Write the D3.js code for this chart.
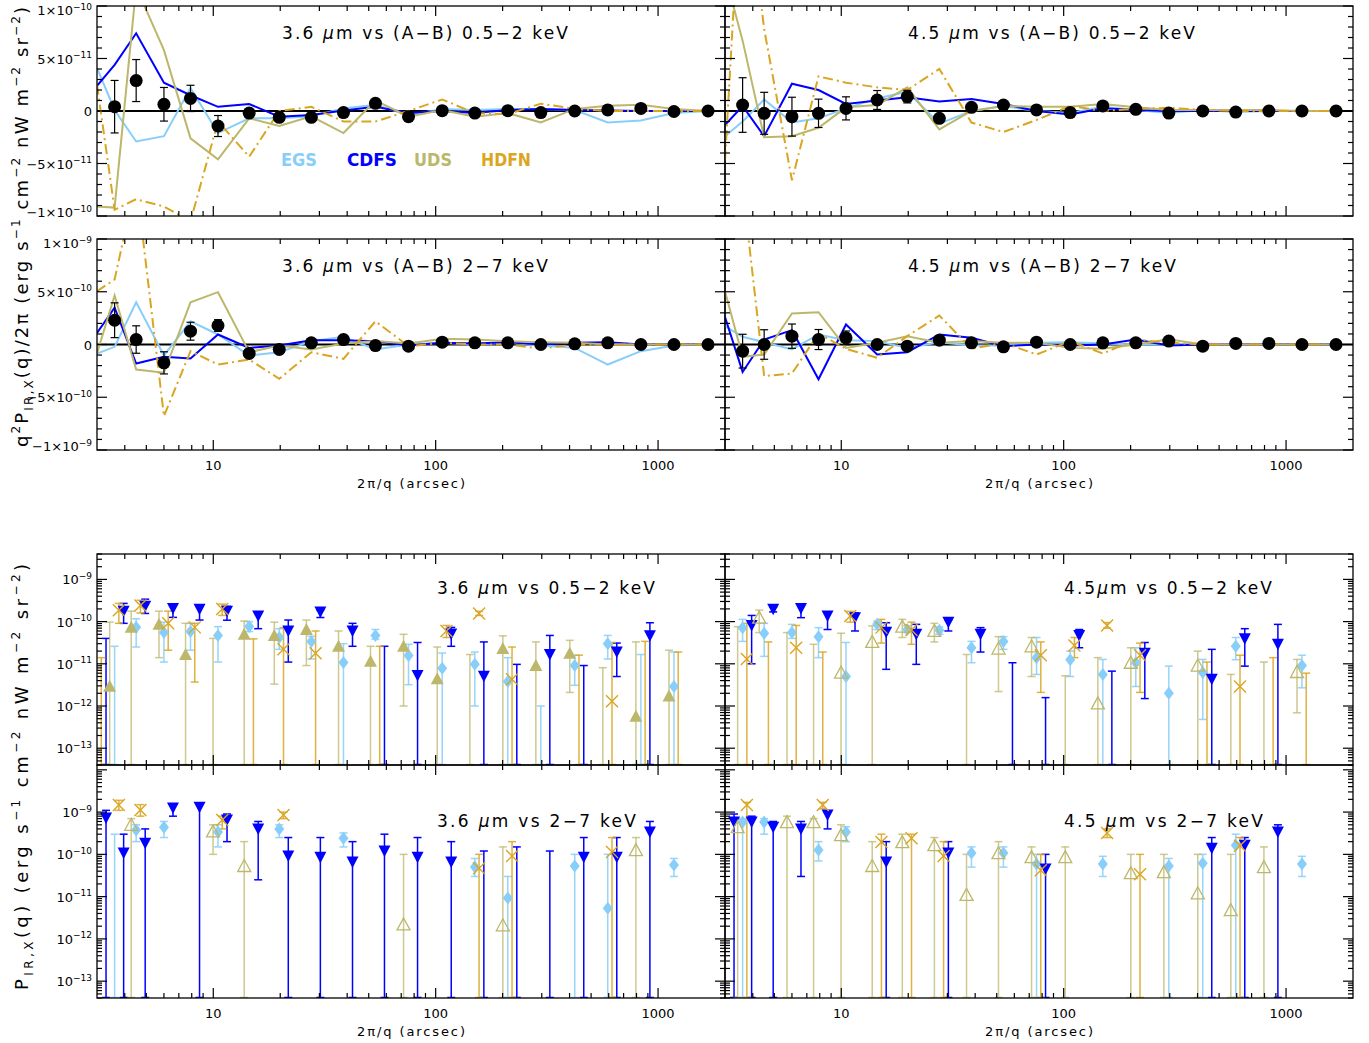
<!DOCTYPE html>
<html>
<head>
<meta charset="utf-8">
<script src="https://cdn.jsdelivr.net/npm/d3@7"></script>
<style>
  body { margin: 0; background: #fff; }
  text { font-family: "DejaVu Sans", sans-serif; fill: #000; }
</style>
</head>
<body>
<svg id="chart" width="1369" height="1043"></svg>
<script>
/* * * * * * * * * * * * * * * * * *
*   IR x X-ray cross power spectra   *
* * * * * * * * * * * * * * * * * * */

// angular scales 2pi/q (arcsec); first one is the left edge start of the curves
const scales = [3.0, 3.6, 4.5, 6.0, 7.9, 10.5, 14.5, 19.8, 27.6, 38.5, 53.6, 75.5, 107, 150, 211, 297, 422, 594, 837, 1179, 1678];
const fields = ['EGS', 'CDFS', 'UDS', 'HDFN'];
const fieldColors = ['#87cefa', '#0000ff', '#bdb76b', '#daa520'];
// small shift of each field along x in the lower panels (multiplicative)
const fieldShift = [1.0, 1.098, 0.95, 1.045];

// ---- top block : q^2 P /2pi, (A-B) maps ----
// 3.6um vs 0.5-2 keV, units 1e-11
const a36Mean = [0.41, 2.9, 0.64, 1.2, -1.43, -0.2, -0.6, -0.6, -0.15, 0.73, -0.54, 0.03, -0.2, 0.03, -0.15, 0, 0.1, 0.25, -0.05, 0];
const a36Err  = [2.5, 2.0, 1.6, 1.25, 1.0, 0.35, 0.3, 0.3, 0.25, 0.3, 0.25, 0.2, 0.2, 0.2, 0.2, 0.15, 0.15, 0.15, 0.1, 0.1];
const a36EGS  = [4.1, 0.1, -2.9, -2.4, 2.2, -2.1, -0.7, -0.7, -0.5, 0.25, 0.6, -0.4, 0.2, 0.1, 0.2, 0.2, 0.1, -1.1, -0.9, -0.2, 0];
const a36CDFS = [2.4, 4.4, 7.4, 2.7, 1.5, 0.4, 0.67, -0.54, -0.38, 0.05, 0.4, -0.2, 0, -0.2, 0.1, 0.2, 0.1, 0.05, 0, 0, 0];
const a36UDS  = [-9.1, -9.2, 11.8, 5.8, -2.6, -4.6, -0.7, -1.43, -0.5, -2.1, 1.0, -0.54, 0.1, -0.54, -0.2, -1.1, 0.2, 0.5, 0.6, 0.2, 0];
const a36HDFN = [2.5, -9.4, -8.4, -9.1, -10.5, -1.0, -4.35, 0, 0.4, -1.0, -1.0, 0, 1.1, -0.2, -0.3, 0.7, 0.2, 0, 0, 0, 0];
// 4.5um vs 0.5-2 keV, units 1e-11
const a45Mean = [0.57, -0.22, -0.54, -0.22, 0.25, 1.05, 1.37, -0.7, 0.35, 0.57, 0.1, -0.15, 0.48, 0.16, -0.2, 0, -0.1, 0, 0, 0];
const a45Err  = [2.6, 2.0, 1.85, 1.35, 1.1, 0.9, 0.6, 0.3, 0.3, 0.25, 0.2, 0.2, 0.2, 0.2, 0.15, 0.15, 0.15, 0.1, 0.1, 0.1];
const a45EGS  = [-2.4, -1.0, 1.1, -1.1, -0.7, 0.25, 1.2, 1.84, -1.2, 0, 0.48, 0, -0.2, 0.4, 0.1, -0.2, 0.1, -0.1, 0, 0, 0];
const a45CDFS = [-1.33, 0.48, -2.4, 2.6, 2.0, 0.67, 1.0, 1.3, 0.9, 1.14, 0.67, 0, -0.33, 0.25, 0.1, 0, 0, 0, 0, 0, 0];
const a45UDS  = [13, 6.7, -2.5, -2.4, -1.6, 0.35, 0.57, 2.25, -1.75, 0, 0.48, 0.4, 0.4, 0.67, 0.35, 0.1, 0.1, 0.1, 0.1, 0, 0];
const a45HDFN = [-4.7, 25, 7.8, -6.6, 3.3, 2.7, 2.25, 2.0, 4.0, -1.1, -2.0, -0.86, 0.48, 0, 0.2, 0.3, 0.1, 0, 0, 0, 0];
// 3.6um vs 2-7 keV, units 1e-10
const b36Mean = [2.3, 0.47, -1.74, 1.26, 1.8, -0.85, -0.47, 0.16, 0.47, -0.1, -0.16, 0.22, 0.16, 0.16, 0, 0.06, 0.16, 0, 0, 0];
const b36Err  = [1.65, 1.3, 1.05, 0.85, 0.55, 0.3, 0.25, 0.25, 0.25, 0.2, 0.2, 0.2, 0.2, 0.15, 0.15, 0.15, 0.15, 0.1, 0.1, 0.1];
const b36EGS  = [-0.85, -0.22, 4.0, -1.04, 2.2, 0.95, -1.04, -0.73, 0.32, 0.73, -0.47, 0, 0.16, 0, 0.16, -0.1, -0.32, -1.9, -0.63, -0.1, 0];
const b36CDFS = [1.1, 3.5, -1.8, -1.17, -1.33, 0.95, -0.32, -0.1, 0.41, 0.41, 0.32, -0.1, 0.16, 0.1, 0.22, 0, 0.16, 0.22, 0, 0, 0];
const b36UDS  = [-0.85, 4.64, -2.37, -2.68, 4.0, 4.96, -0.73, -0.1, -0.47, 0.1, 0.32, 0.1, 0.54, 0.47, 0.32, 0.22, 0.16, 0, 0, 0, 0];
const b36HDFN = [5.05, 6.16, 15.5, -6.8, -0.63, -1.9, -1.42, -3.25, -0.73, -1.36, 2.2, -0.16, 0.16, 0, 0, -0.4, 0, 0, 0, 0, 0];
// 4.5um vs 2-7 keV, units 1e-10
const b45Mean = [-0.63, 0, 0.79, 0.47, 0.63, 0, -0.16, 0.41, 0.16, -0.22, 0.22, 0, 0.16, 0.16, 0.32, -0.16, 0.1, 0.1, 0, 0];
const b45Err  = [1.6, 1.4, 1.15, 0.95, 0.65, 0.3, 0.25, 0.25, 0.2, 0.2, 0.2, 0.2, 0.15, 0.15, 0.15, 0.15, 0.1, 0.1, 0.1, 0.1];
const b45EGS  = [1.74, 0.73, 0.22, -0.47, 0.95, 0.41, 0.32, -0.32, 0.22, -0.1, -0.1, 0.16, 0.22, 0.1, 0, 0, 0.1, 0, 0, 0, 0];
const b45CDFS = [2.6, -2.6, 0.47, 1.36, -3.3, 1.9, -0.95, -0.73, 0.95, 0.63, -0.16, 0, -0.1, 0, 0.47, -0.1, 0, 0, 0, 0, 0];
const b45UDS  = [5.05, -1.17, -0.95, 2.94, 3.06, -0.32, 0.16, 0.79, 0.16, 0.32, 0.16, 0.16, -0.32, -0.4, 0, 0.5, 0, 0, 0, 0, 0];
const b45HDFN = [30, 15, -3.0, -2.75, 1.04, -0.41, -1.26, 0.79, 2.75, -0.41, 0.16, -0.95, 0.32, -0.85, 0.47, 0.16, 0, 0, 0, 0, 0];

// ---- bottom block : P_IR,X per field ----
// [scale index, value (null = below axis), upper end, lower end (0 = off the bottom)]
const s36EGS = [[1,null,2.6e-11,0],[2,7.3e-11,1.17e-10,2.5e-11],[3,5.5e-11,9.7e-11,1.1e-11],[4,5.8e-11,9.1e-11,2.1e-11],[5,4.7e-11,7.6e-11,1.1e-11],[6,7.7e-11,1.0e-10,5.8e-11],[7,4.2e-11,6.8e-11,2.2e-11],[8,3.4e-11,4.5e-11,1.3e-11],[9,1.08e-11,3.0e-11,0],[10,4.7e-11,6.5e-11,3.8e-11],[11,1.58e-11,2.9e-11,3.2e-12],[12,7.8e-12,1.8e-11,0],[13,9.7e-12,1.9e-11,1.0e-12],[14,3.8e-12,1.4e-11,0],[15,null,1.0e-12,0],[16,9.1e-12,1.6e-11,3.1e-12],[17,3.0e-11,4.7e-11,1.3e-11],[18,null,1.66e-11,0],[19,2.9e-12,1.9e-11,0]];
const s36CDFS = [[0,null,4.0e-11,0],[1,1.75e-10,2.7e-10,9.1e-11],[2,2.3e-10,3.4e-10,1.56e-10],[3,2.05e-10,2.6e-10,1.26e-10],[4,1.95e-10,2.4e-10,1.09e-10],[5,1.77e-10,2.3e-10,1.08e-10],[6,1.35e-10,1.6e-10,6.8e-11],[7,6.0e-11,1.09e-10,1.1e-11],[8,1.68e-10,1.9e-10,1.25e-10],[9,6.0e-11,9.1e-11,2.6e-11],[10,null,2.6e-11,0],[11,5.3e-12,3.2e-11,0],[12,5.1e-11,7.3e-11,2.6e-11],[13,5.1e-12,3.3e-11,0],[14,null,9.7e-12,0],[15,1.66e-11,4.7e-11,0],[16,null,9.1e-12,0],[17,1.9e-11,3.1e-11,5.0e-12],[18,4.6e-11,9.4e-11,0]];
const s36UDS = [[1,2.95e-12,9.7e-11,0],[2,7.3e-11,1.77e-10,0],[3,8.6e-11,1.77e-10,1.4e-11],[4,1.66e-11,9.1e-11,0],[5,null,4.0e-11,0],[6,5.0e-11,1.03e-10,0],[7,4.7e-11,9.7e-11,3.3e-12],[8,6.5e-11,1.09e-10,9.1e-12],[9,2.6e-11,6.0e-11,0],[10,1.15e-11,2.6e-11,0],[11,2.6e-11,5.0e-11,1.0e-12],[12,4.4e-12,2.5e-11,0],[13,null,1.66e-11,0],[14,2.3e-11,4.6e-11,0],[15,9.1e-12,3.3e-11,0],[16,1.77e-11,3.6e-11,2.1e-12],[17,null,8.1e-12,0],[18,5.7e-13,3.3e-11,0],[19,1.72e-12,2.1e-11,0]];
const s36HDFN = [[0,null,1.4e-11,0],[1,1.87e-10,2.7e-10,9.1e-11],[2,2.4e-10,3.2e-10,1.6e-10],[3,9.1e-11,1.77e-10,2.1e-11],[4,7.3e-11,9.1e-11,3.7e-12],[5,2.0e-10,2.6e-10,1.4e-10],[6,null,3.9e-11,0],[7,2.2e-11,7.2e-11,0],[8,1.77e-11,6.0e-11,0],[10,null,2.6e-11,0],[12,6.0e-11,8.1e-11,4.2e-11],[13,1.56e-10,1.75e-10,1.4e-10],[14,4.3e-12,2.5e-11,0],[16,null,1.6e-11,0],[17,1.3e-12,3.2e-11,0],[18,null,3.4e-11,0],[19,null,1.9e-11,0]];

const s45EGS = [[1,7.2e-11,1.13e-10,3.4e-11],[2,5.3e-11,9.1e-11,1.5e-11],[3,5.5e-11,8.6e-11,4.0e-11],[4,4.4e-11,7.2e-11,1.4e-11],[5,5.0e-12,3.2e-11,0],[6,8.6e-11,1.03e-10,6.5e-11],[7,6.5e-11,8.0e-11,5.5e-11],[8,6.2e-11,7.5e-11,5.0e-11],[9,2.4e-11,3.4e-11,1.06e-11],[10,3.4e-11,4.4e-11,2.2e-11],[11,1.4e-11,4.2e-11,5.6e-12],[12,1.25e-11,2.0e-11,5.0e-12],[13,5.6e-12,1.27e-11,0],[14,1.06e-11,2.4e-11,2.9e-12],[15,2.0e-12,8.8e-12,0],[16,6.2e-12,1.27e-11,4.8e-13],[17,2.6e-11,4.2e-11,1.25e-11],[19,9.1e-12,1.6e-11,2.7e-12]];
const s45CDFS = [[1,8.1e-11,1.4e-10,1.0e-11],[2,1.95e-10,2.2e-10,1.7e-10],[3,2.05e-10,2.3e-10,1.24e-10],[4,1.35e-10,1.7e-10,6.5e-11],[5,1.24e-10,1.6e-10,6.0e-11],[6,5.6e-11,9.4e-11,7.4e-12],[7,5.0e-11,8.6e-11,9.7e-12],[8,9.7e-11,1.1e-10,6.0e-11],[9,5.0e-11,7.2e-11,1.9e-11],[10,null,1.06e-11,0],[11,null,1.58e-12,0],[12,4.7e-11,6.5e-11,2.4e-11],[13,null,6.7e-12,0],[14,1.77e-11,3.2e-11,1.5e-12],[16,4.3e-12,2.2e-11,0],[17,3.9e-11,6.8e-11,8.8e-12],[18,2.9e-11,8.6e-11,0]];
const s45UDS = [[1,null,7.6e-11,0],[2,1.24e-10,1.87e-10,5.5e-11],[3,null,5.5e-11,0],[4,null,2.9e-11,0],[5,6.2e-12,5.3e-11,0],[6,3.3e-11,7.9e-11,0],[7,7.6e-11,1.13e-10,4.2e-11],[8,6.0e-11,9.1e-11,3.3e-11],[9,null,1.66e-11,0],[10,2.3e-11,4.4e-11,2.2e-12],[11,2.6e-11,4.2e-11,5.0e-12],[12,null,5.2e-12,0],[13,1.15e-12,1.4e-11,0],[14,1.06e-11,2.4e-11,0],[16,9.1e-12,2.0e-11,0],[17,null,5.6e-12,0],[18,null,1.1e-11,0],[19,6.4e-12,1.27e-11,6.9e-13]];
const s45HDFN = [[1,1.3e-11,9.1e-11,0],[2,null,3.3e-11,0],[3,2.4e-11,8.1e-11,0],[4,null,1.9e-11,0],[5,1.35e-10,1.75e-10,9.7e-11],[6,7.2e-11,1.13e-10,3.1e-11],[7,6.3e-11,9.7e-11,2.9e-11],[11,1.6e-11,3.3e-11,2.1e-12],[12,2.7e-11,4.2e-11,1.4e-11],[13,8.1e-11,9.5e-11,7.0e-11],[14,1.6e-11,3.1e-11,2.1e-12],[16,null,1.1e-11,0],[17,2.9e-12,1.6e-11,0],[18,null,1.4e-11,0],[19,null,6.0e-12,0]];

const h36EGS = [[1,null,3.0e-10,0],[2,3.75e-10,5.0e-10,2.0e-10],[3,4.4e-10,6.0e-10,2.5e-10],[5,3.4e-10,5.0e-10,1.5e-10],[7,4.0e-10,5.0e-10,2.5e-10],[9,2.4e-10,3.2e-10,1.5e-10],[13,5.0e-11,8.0e-11,3.0e-11],[14,9.3e-12,3.0e-11,0],[16,5.3e-11,1.0e-10,0],[17,5.3e-12,1.0e-10,0],[19,5.6e-11,8.0e-11,3.0e-11]];
const h36CDFS = [[0,7.2e-10,1.1e-9,0],[1,1.07e-10,3.0e-10,0],[2,1.84e-10,4.0e-10,0],[3,1.25e-9,1.5e-9,8.0e-10],[4,1.31e-9,1.6e-9,0],[5,6.5e-10,9.0e-10,2.0e-10],[6,3.96e-10,6.0e-10,2.5e-11],[7,9.1e-11,2.5e-10,0],[8,8.6e-11,2.5e-10,0],[9,6.6e-11,2.0e-10,0],[10,1.2e-10,3.0e-10,0],[11,8.6e-11,2.5e-10,0],[12,6.6e-11,2.0e-10,0],[13,null,1.2e-10,0],[14,null,1.5e-10,0],[15,null,1.2e-10,0],[16,8.6e-11,2.5e-10,0],[17,8.6e-11,2.5e-10,0],[18,3.4e-10,6.0e-10,0]];
const h36UDS = [[2,5.0e-10,7.0e-10,0],[5,3.5e-10,5.0e-10,1.0e-10],[6,5.3e-11,2.0e-10,0],[11,2.2e-12,1.0e-10,0],[14,2.1e-12,1.5e-10,0],[18,1.26e-10,2.5e-10,0]];
const h36HDFN = [[1,1.47e-9,1.9e-9,1.1e-9],[2,1.12e-9,1.5e-9,8.0e-10],[5,6.5e-10,8.0e-10,4.0e-10],[7,8.5e-10,1.0e-9,7.0e-10],[13,4.7e-11,1.0e-10,0],[14,9.1e-11,2.0e-10,0],[17,1.13e-10,2.5e-10,0]];

const h45EGS = [[1,5.8e-10,7.0e-10,0],[2,5.8e-10,7.0e-10,3.0e-10],[4,1.26e-10,2.0e-10,7.0e-11],[5,3.37e-10,4.5e-10,2.0e-10],[9,1.07e-10,1.5e-10,5.0e-11],[10,1.07e-10,1.5e-10,5.0e-11],[11,5.9e-11,1.0e-10,0],[13,5.9e-11,9.0e-11,3.0e-11],[15,5.3e-11,8.0e-11,0],[16,6.2e-11,1.0e-10,0],[17,1.65e-10,3.0e-10,0],[19,5.9e-11,9.0e-11,3.0e-11]];
const h45CDFS = [[0,5.8e-10,9.0e-10,0],[1,5.8e-10,8.0e-10,0],[2,4.4e-10,6.0e-10,0],[3,3.96e-10,6.0e-10,3.0e-11],[4,8.5e-10,1.0e-9,4.0e-10],[6,6.6e-11,2.0e-10,0],[8,1.07e-10,2.0e-10,0],[11,4.5e-11,1.0e-10,0],[16,1.4e-10,2.5e-10,0],[17,1.65e-10,2.5e-10,0],[18,3.4e-10,5.0e-10,0]];
const h45UDS = [[1,4.4e-10,7.0e-10,0],[3,5.8e-10,8.0e-10,0],[4,5.8e-10,7.0e-10,0],[5,2.85e-10,5.0e-10,0],[6,5.3e-11,2.0e-10,0],[7,1.95e-10,3.0e-10,0],[8,1.65e-10,2.5e-10,0],[9,1.1e-11,1.0e-10,0],[10,1.07e-10,2.0e-10,0],[11,8.6e-11,1.5e-10,0],[12,8.6e-11,1.5e-10,0],[14,3.6e-11,1.0e-10,0],[15,3.8e-11,1.0e-10,0],[16,1.2e-11,1.0e-10,0],[17,4.8e-12,1.0e-10,0],[18,5.0e-11,1.5e-10,0]];
const h45HDFN = [[1,1.47e-9,1.7e-9,0],[4,1.47e-9,1.7e-9,1.2e-9],[6,1.95e-10,3.0e-10,0],[7,2.4e-10,3.0e-10,0],[8,9.1e-11,2.0e-10,0],[11,4.2e-11,1.0e-10,0],[13,3.2e-10,4.0e-10,2.5e-10],[14,3.4e-11,1.0e-10,0],[17,1.6e-10,2.5e-10,0]];

// ------------------------------------------------------------------
let svg = d3.select("#chart");
let cols = [[97, 725], [725, 1353]];
let xDomain = [3, 2000];
let xMajor = [10, 100, 1000];
let xMinor = [];
[1, 10, 100, 1000].forEach(d => { for (let k = 2; k < 10; k++) { let v = k * d; if (v > 3 && v < 2000) xMinor.push(v); } });

// text with super/subscripts: parts = [[str, mode]] mode '', 'sup', 'sub', 'it'
function rich(t, parts, fs, small) {
    let shift = 0;
    parts.forEach(([s, m]) => {
        let target = m === 'sup' ? -0.42 * fs : m === 'sub' ? 0.28 * fs : 0;
        let ts = t.append('tspan').text(s).attr('dy', target - shift);
        if (m === 'sup' || m === 'sub') ts.attr('font-size', small);
        if (m === 'it') ts.attr('font-style', 'italic');
        shift = target;
    });
    return t;
}

function ticks(parent, scale, side, major, minor, x0, x1, y0, y1) {
    let g = parent.append('g').attr('stroke', '#000').attr('stroke-width', 1.2);
    let all = major.map(v => [v, 10]).concat(minor.map(v => [v, 5]));
    all.forEach(([v, len]) => {
        let p = scale(v);
        if (side === 'left')   g.append('line').attr('x1', x0).attr('x2', x0 + len).attr('y1', p).attr('y2', p);
        if (side === 'right')  g.append('line').attr('x1', x1).attr('x2', x1 - len).attr('y1', p).attr('y2', p);
        if (side === 'bottom') g.append('line').attr('x1', p).attr('x2', p).attr('y1', y1).attr('y2', y1 - len);
        if (side === 'top')    g.append('line').attr('x1', p).attr('x2', p).attr('y1', y0).attr('y2', y0 + len);
    });
}

function frame(col, y0, y1) {
    let x0 = cols[col][0], x1 = cols[col][1];
    let g = svg.append('g');
    let id = 'clip' + col + '_' + Math.round(y0);
    svg.append('clipPath').attr('id', id).append('rect')
        .attr('x', x0).attr('y', y0).attr('width', x1 - x0).attr('height', y1 - y0);
    let x = d3.scaleLog().domain(xDomain).range([x0, x1]);
    return {g, x, x0, x1, y0, y1, clip: 'url(#' + id + ')'};
}

function xLabels(p) {
    xMajor.forEach(v => {
        svg.append('text').attr('x', p.x(v)).attr('y', p.y1 + 20).attr('text-anchor', 'middle')
            .attr('font-size', 13).text(v);
    });
    svg.append('text').attr('x', p.x0 + 260).attr('y', p.y1 + 38).attr('font-size', 13)
        .attr('textLength', 108).attr('lengthAdjust', 'spacing').text('2π/q  (arcsec)');
}

function title(x, y, w, parts) {
    let t = svg.append('text').attr('x', x).attr('y', y).attr('font-size', 17)
        .attr('textLength', w).attr('lengthAdjust', 'spacing');
    rich(t, parts, 17, 12);
}

// linear panels (top block)
function linPanel(col, y0, y1, unit, mean, err, lines, showX) {
    let p = frame(col, y0, y1);
    let y = d3.scaleLinear().domain([-unit * 10, unit * 10]).range([y1, y0]);
    let s = v => y(v * unit);
    let g = p.g;

    // zero line
    g.append('line').attr('x1', p.x0).attr('x2', p.x1).attr('y1', y(0)).attr('y2', y(0))
        .attr('stroke', col === 0 && unit < 5e-12 ? '#666' : '#000').attr('stroke-width', 2.2);

    let lg = g.append('g').attr('clip-path', p.clip);
    lines.forEach((arr, i) => {
        let line = d3.line().x((d, j) => p.x(scales[j])).y(d => s(d));
        lg.append('path').datum(arr).attr('d', line)
            .attr('fill', 'none').attr('stroke', fieldColors[i]).attr('stroke-width', 2)
            .attr('stroke-dasharray', i === 3 ? '10,4,2,4' : null);
    });

    // mean points with error bars
    let pts = scales.slice(1);
    mean.forEach((m, j) => {
        let cx = p.x(pts[j]);
        let e = err[j];
        lg.append('line').attr('x1', cx).attr('x2', cx).attr('y1', s(m - e)).attr('y2', s(m + e))
            .attr('stroke', '#000').attr('stroke-width', 1.2);
        [m - e, m + e].forEach(v => lg.append('line').attr('x1', cx - 4).attr('x2', cx + 4)
            .attr('y1', s(v)).attr('y2', s(v)).attr('stroke', '#000').attr('stroke-width', 1.2));
        lg.append('circle').attr('cx', cx).attr('cy', s(m)).attr('r', 6.5).attr('fill', '#000');
    });

    // ticks
    let yMajor = [-10, -5, 0, 5, 10].map(v => v * unit);
    let yMinor = d3.range(-10, 11).filter(v => v % 5 !== 0).map(v => v * unit);
    ticks(g, y, 'left', yMajor, yMinor, p.x0, p.x1, y0, y1);
    ticks(g, y, 'right', yMajor, yMinor, p.x0, p.x1, y0, y1);
    ticks(g, p.x, 'bottom', xMajor, xMinor, p.x0, p.x1, y0, y1);
    ticks(g, p.x, 'top', xMajor, xMinor, p.x0, p.x1, y0, y1);
    g.append('rect').attr('x', p.x0).attr('y', y0).attr('width', p.x1 - p.x0).attr('height', y1 - y0)
        .attr('fill', 'none').attr('stroke', '#000').attr('stroke-width', 1.3);

    if (col === 0) {
        yMajor.forEach(v => {
            let cy = Math.min(Math.max(y(v), y0 + 4), y1 - 4);
            let t = svg.append('text').attr('x', 92).attr('y', cy + 5).attr('text-anchor', 'end').attr('font-size', 13);
            if (v === 0) { t.text('0'); return; }
            let ex = Math.floor(Math.log10(Math.abs(v)) + 1e-9);
            let mant = Math.round(Math.abs(v) / Math.pow(10, ex));
            rich(t, [[(v < 0 ? '−' : '') + mant + '×10', ''], ['−' + Math.abs(ex), 'sup']], 13, 9);
        });
    }
    if (showX) xLabels(p);
}

// marker shapes
function marker(g, kind, cx, cy, color) {
    if (kind === 'diamond')
        g.append('path').attr('d', `M${cx},${cy - 6.5}L${cx + 5},${cy}L${cx},${cy + 6.5}L${cx - 5},${cy}Z`).attr('fill', color);
    if (kind === 'down')
        g.append('path').attr('d', `M${cx - 6},${cy - 5.5}L${cx + 6},${cy - 5.5}L${cx},${cy + 6}Z`).attr('fill', color);
    if (kind === 'up' || kind === 'upOpen')
        g.append('path').attr('d', `M${cx - 6.5},${cy + 5.5}L${cx + 6.5},${cy + 5.5}L${cx},${cy - 6.5}Z`)
            .attr('fill', kind === 'up' ? color : 'none').attr('stroke', kind === 'up' ? 'none' : color).attr('stroke-width', 1.3);
    if (kind === 'x')
        g.append('path').attr('d', `M${cx - 6},${cy - 6}L${cx + 6},${cy + 6}M${cx - 6},${cy + 6}L${cx + 6},${cy - 6}`)
            .attr('stroke', color).attr('stroke-width', 1.4).attr('fill', 'none');
}

// log panels (bottom block)
function logPanel(col, y0, y1, yDomain, series, udsFilled, showY, showX) {
    let p = frame(col, y0, y1);
    let y = d3.scaleLog().domain(yDomain).range([y1, y0]);
    let g = p.g;
    let kinds = ['diamond', 'down', udsFilled ? 'up' : 'upOpen', 'x'];
    let barOpacity = [0.85, 1, 0.75, 0.85];
    let mg = g.append('g').attr('clip-path', p.clip);
    series.forEach((arr, i) => {
        arr.forEach(([k, v, hi, lo]) => {
            let cx = p.x(scales[k] * fieldShift[i]);
            let yHi = y(hi);
            let yLo = lo > 0 ? y(lo) : y1 - 0.5;
            mg.append('line').attr('x1', cx).attr('x2', cx).attr('y1', yHi).attr('y2', yLo)
                .attr('stroke', fieldColors[i]).attr('stroke-width', 1.5).attr('opacity', barOpacity[i]);
            [yHi, yLo].forEach(yy => mg.append('line').attr('x1', cx - 4).attr('x2', cx + 4)
                .attr('y1', yy).attr('y2', yy).attr('stroke', fieldColors[i]).attr('stroke-width', 1.5)
                .attr('opacity', barOpacity[i]));
        });
    });
    series.forEach((arr, i) => {
        arr.forEach(([k, v]) => {
            if (v === null) return;
            marker(mg, kinds[i], p.x(scales[k] * fieldShift[i]), y(v), fieldColors[i]);
        });
    });

    let yMajor = [], yMinor = [];
    for (let e = -14; e <= -8; e++) {
        let m = Math.pow(10, e);
        if (m >= yDomain[0] && m <= yDomain[1]) yMajor.push(m);
        for (let k = 2; k < 10; k++) { let v = k * m; if (v >= yDomain[0] && v <= yDomain[1]) yMinor.push(v); }
    }
    ticks(g, y, 'left', yMajor, yMinor, p.x0, p.x1, y0, y1);
    ticks(g, y, 'right', yMajor, yMinor, p.x0, p.x1, y0, y1);
    ticks(g, p.x, 'bottom', xMajor, xMinor, p.x0, p.x1, y0, y1);
    ticks(g, p.x, 'top', xMajor, xMinor, p.x0, p.x1, y0, y1);
    g.append('rect').attr('x', p.x0).attr('y', y0).attr('width', p.x1 - p.x0).attr('height', y1 - y0)
        .attr('fill', 'none').attr('stroke', '#000').attr('stroke-width', 1.3);

    if (showY) {
        yMajor.filter(v => v >= 1e-13 && v <= 1e-9).forEach(v => {
            let t = svg.append('text').attr('x', 92).attr('y', y(v) + 5).attr('text-anchor', 'end').attr('font-size', 13);
            rich(t, [['10', ''], ['−' + Math.round(-Math.log10(v)), 'sup']], 13, 9);
        });
    }
    if (showX) xLabels(p);
}

// ---------- draw ----------
linPanel(0, 6, 216, 1e-11, a36Mean, a36Err, [a36EGS, a36CDFS, a36UDS, a36HDFN], false);
linPanel(1, 6, 216, 1e-11, a45Mean, a45Err, [a45EGS, a45CDFS, a45UDS, a45HDFN], false);
linPanel(0, 239, 450, 1e-10, b36Mean, b36Err, [b36EGS, b36CDFS, b36UDS, b36HDFN], true);
linPanel(1, 239, 450, 1e-10, b45Mean, b45Err, [b45EGS, b45CDFS, b45UDS, b45HDFN], true);

logPanel(0, 554, 765, [4e-14, 4e-9], [s36EGS, s36CDFS, s36UDS, s36HDFN], true, true, false);
logPanel(1, 554, 765, [4e-14, 4e-9], [s45EGS, s45CDFS, s45UDS, s45HDFN], false, false, false);
logPanel(0, 765, 998, [4e-14, 1.3e-8], [h36EGS, h36CDFS, h36UDS, h36HDFN], false, true, true);
logPanel(1, 765, 998, [4e-14, 1.3e-8], [h45EGS, h45CDFS, h45UDS, h45HDFN], false, false, true);

// titles
title(282, 39, 286, [['3.6 ', ''], ['μ', 'it'], ['m vs (A−B) 0.5−2 keV', '']]);
title(908, 39, 287, [['4.5 ', ''], ['μ', 'it'], ['m vs (A−B) 0.5−2 keV', '']]);
title(282, 272, 266, [['3.6 ', ''], ['μ', 'it'], ['m vs (A−B) 2−7 keV', '']]);
title(908, 272, 268, [['4.5 ', ''], ['μ', 'it'], ['m vs (A−B) 2−7 keV', '']]);
title(437, 594, 218, [['3.6 ', ''], ['μ', 'it'], ['m vs 0.5−2 keV', '']]);
title(1064, 594, 208, [['4.5', ''], ['μ', 'it'], ['m vs 0.5−2 keV', '']]);
title(437, 827, 199, [['3.6 ', ''], ['μ', 'it'], ['m vs 2−7 keV', '']]);
title(1064, 827, 199, [['4.5 ', ''], ['μ', 'it'], ['m vs 2−7 keV', '']]);

// legend
let legX = [281, 347, 414, 481], legW = [36, 50, 38, 50];
fields.forEach((f, i) => {
    svg.append('text').attr('x', legX[i]).attr('y', 166).attr('font-size', 17).attr('font-weight', 'bold')
        .attr('textLength', legW[i]).attr('lengthAdjust', 'spacingAndGlyphs')
        .style('fill', fieldColors[i]).text(f);
});

// y axis titles
let yt1 = svg.append('text').attr('transform', 'translate(28,447) rotate(-90)')
    .attr('font-size', 18).attr('textLength', 440).attr('lengthAdjust', 'spacing');
rich(yt1, [['q', ''], ['2', 'sup'], ['P', ''], ['IR,X', 'sub'], ['(q)/2π  (erg s', ''], ['−1', 'sup'],
    [' cm', ''], ['−2', 'sup'], [' nW m', ''], ['−2', 'sup'], ['   sr', ''], ['−2', 'sup'], [')', '']], 18, 12);
let yt2 = svg.append('text').attr('transform', 'translate(28,990) rotate(-90)')
    .attr('font-size', 18).attr('textLength', 426).attr('lengthAdjust', 'spacing');
rich(yt2, [['P', ''], ['IR,X', 'sub'], ['(q)  (erg s', ''], ['−1', 'sup'],
    [' cm', ''], ['−2', 'sup'], [' nW m', ''], ['−2', 'sup'], ['   sr', ''], ['−2', 'sup'], [')', '']], 18, 12);
</script>
</body>
</html>
